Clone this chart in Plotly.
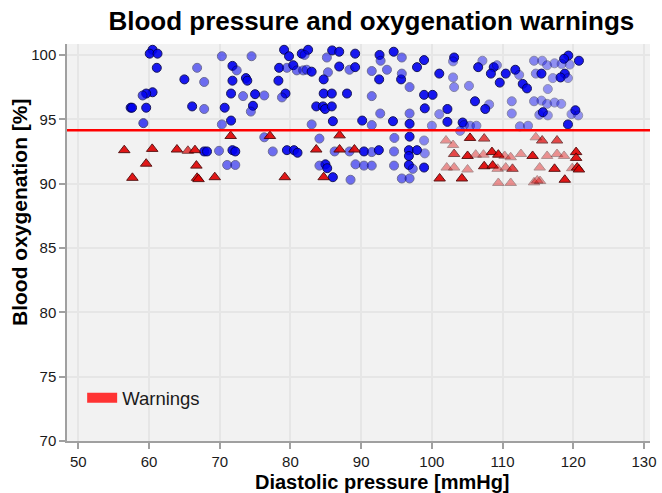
import plotly.graph_objects as go

# Normal readings (above the warning threshold): diastolic pressure, oxygenation, marker opacity
normal_pressure = [
    60.5, 60.1, 61.2, 61.1, 65.0, 60.5, 59.6, 59.1, 57.4, 57.6, 59.6, 59.2,
    79.1, 79.8, 81.6, 70.3, 74.5, 66.8, 71.8, 72.4, 73.7, 73.9, 71.8, 67.8,
    78.4, 79.5, 80.4, 80.9, 81.8, 78.3, 71.6, 73.3, 75.0, 76.3, 79.3, 78.8,
    66.1, 67.8, 70.7, 74.7, 74.4, 71.6, 70.3, 76.3, 67.8, 68.2, 69.9, 71.8,
    72.2, 77.5, 79.5, 80.5, 81.0, 71.05, 72.2,
    82.5, 82.0, 85.9, 86.9, 85.15, 89.15, 92.6, 92.75, 94.6, 95.75, 82.3, 83.0,
    86.9, 88.35, 89.15, 85.3, 84.7, 91.5, 93.65, 92.55, 95.65, 95.75, 97.9, 96.85,
    84.7, 85.85, 88.0, 91.5, 83.65, 84.6, 84.9, 85.85, 92.7, 96.85, 83.0, 86.0,
    90.15, 91.5, 94.5, 96.85, 84.1, 96.85, 94.7, 86.25, 88.35, 90.4, 91.5, 92.5,
    94.65, 96.75, 97.9, 96.75, 84.95, 84.1, 85.2, 89.2, 90.4, 91.5, 94.65, 96.75,
    97.3, 86.0, 88.5, 95.75, 96.85,
    98.9, 103.15, 103.0, 107.15, 106.55, 108.75, 109.2, 108.35, 110.45, 111.8, 112.35, 114.45,
    114.7, 101.05, 103.0, 103.15, 105.25, 109.6, 112.85, 113.45, 98.9, 100.1, 106.1, 108.1,
    107.55, 111.3, 114.45, 99.0, 102.2, 101.05, 111.3, 115.2, 102.2, 104.35, 104.55, 105.4,
    106.3, 100.0, 104.0, 112.45, 113.6, 98.9, 99.0, 98.9,
    119.3, 120.8, 118.7, 115.6, 116.3, 117.35, 118.35, 119.5, 115.5, 118.8, 118.2, 117.1,
    119.25, 116.4, 115.5, 116.3, 117.35, 118.3, 115.7, 116.4, 120.3, 119.75, 120.7, 119.25,
]
normal_oxygen = [
    100.4, 100.1, 100.1, 99.0, 98.1, 97.1, 97.0, 96.85, 95.9, 95.9, 95.9, 94.7,
    100.4, 99.9, 100.1, 99.9, 99.9, 99.0, 99.15, 98.8, 98.2, 98.0, 98.0, 97.9,
    99.0, 99.0, 99.2, 98.8, 98.8, 98.0, 97.0, 96.8, 96.95, 96.85, 97.0, 96.7,
    96.0, 95.8, 95.9, 96.05, 95.6, 94.9, 94.6, 93.6, 92.5, 92.5, 92.55, 92.6,
    92.5, 92.5, 92.6, 92.6, 92.4, 91.45, 91.45,
    100.4, 100.0, 100.35, 100.25, 99.8, 100.1, 100.0, 99.55, 100.25, 99.8, 98.85, 98.7,
    99.1, 98.85, 99.05, 98.65, 98.1, 98.75, 98.85, 98.1, 98.1, 98.55, 99.05, 97.5,
    97.0, 97.0, 97.0, 96.8, 96.0, 96.0, 95.8, 96.0, 95.45, 95.45, 94.6, 94.85,
    94.9, 94.55, 94.85, 94.65, 93.5, 93.65, 93.55, 92.5, 92.5, 92.5, 92.45, 92.6,
    92.5, 92.6, 92.6, 92.15, 91.5, 91.4, 91.2, 91.5, 91.4, 91.4, 91.4, 91.45,
    91.15, 90.5, 90.3, 90.4, 90.4,
    99.6, 99.8, 99.5, 99.55, 99.05, 99.05, 99.2, 98.55, 98.55, 98.85, 98.45, 99.55,
    98.55, 98.55, 98.25, 97.5, 97.6, 97.85, 97.75, 97.4, 96.9, 96.9, 96.4, 96.15,
    95.8, 96.4, 96.4, 95.85, 95.8, 95.4, 95.45, 95.35, 94.8, 94.75, 94.55, 94.5,
    94.5, 94.5, 94.1, 94.45, 94.5, 93.35, 92.35, 91.25,
    99.95, 99.55, 99.7, 99.55, 99.2, 99.35, 99.3, 99.25, 98.55, 98.55, 98.25, 98.2,
    98.2, 97.35, 96.45, 96.2, 96.3, 96.2, 95.55, 95.3, 95.7, 95.4, 95.3, 94.6,
]
normal_alpha = [
    0.9, 0.9, 0.9, 0.9, 0.9, 0.9, 0.9, 0.7, 0.9, 0.9, 0.9, 0.7,
    0.9, 0.9, 0.9, 0.55, 0.55, 0.55, 0.9, 0.55, 0.9, 0.9, 0.9, 0.55,
    0.9, 0.55, 0.9, 0.55, 0.55, 0.9, 0.9, 0.55, 0.9, 0.55, 0.9, 0.55,
    0.9, 0.55, 0.9, 0.9, 0.55, 0.9, 0.55, 0.55, 0.9, 0.9, 0.55, 0.9,
    0.9, 0.55, 0.9, 0.9, 0.9, 0.55, 0.55,
    0.9, 0.55, 0.9, 0.9, 0.55, 0.9, 0.9, 0.55, 0.9, 0.55, 0.55, 0.9,
    0.9, 0.55, 0.9, 0.55, 0.9, 0.55, 0.55, 0.9, 0.9, 0.55, 0.9, 0.55,
    0.9, 0.9, 0.9, 0.55, 0.9, 0.9, 0.9, 0.9, 0.55, 0.55, 0.55, 0.9,
    0.9, 0.55, 0.9, 0.9, 0.55, 0.9, 0.55, 0.55, 0.55, 0.9, 0.55, 0.9,
    0.55, 0.9, 0.9, 0.9, 0.9, 0.55, 0.9, 0.55, 0.55, 0.55, 0.55, 0.9,
    0.55, 0.9, 0.55, 0.55, 0.55,
    0.9, 0.9, 0.45, 0.45, 0.9, 0.9, 0.45, 0.9, 0.9, 0.9, 0.45, 0.45,
    0.45, 0.9, 0.45, 0.45, 0.45, 0.9, 0.9, 0.9, 0.9, 0.9, 0.9, 0.45,
    0.9, 0.45, 0.45, 0.9, 0.9, 0.45, 0.45, 0.45, 0.9, 0.9, 0.45, 0.45,
    0.45, 0.45, 0.45, 0.45, 0.45, 0.45, 0.45, 0.9,
    0.9, 0.9, 0.9, 0.4, 0.4, 0.4, 0.4, 0.4, 0.9, 0.9, 0.9, 0.4,
    0.4, 0.4, 0.4, 0.4, 0.4, 0.4, 0.9, 0.4, 0.9, 0.4, 0.4, 0.9,
]

# Warning readings (below the threshold)
warning_pressure = [
    56.5, 60.45, 63.95, 59.6, 57.65, 65.5, 66.5, 71.55, 77.1, 66.7, 66.8, 67.0,
    69.3, 79.2, 86.95, 83.65, 86.95, 89.05, 84.7,
    102.0, 103.0, 105.4, 107.4, 103.15, 105.05, 106.2, 107.3, 108.5, 109.4, 110.3, 111.15,
    112.6, 114.25, 102.1, 103.15, 105.05, 107.4, 108.6, 109.3, 110.45, 111.4, 101.1, 104.25,
    109.4, 111.15, 114.45, 115.6, 117.7, 114.7, 116.3, 117.7, 118.7, 120.4, 120.4, 117.35,
    119.85, 120.55, 120.8, 115.25, 118.8, 115.3, 114.9,
]
warning_oxygen = [
    92.6, 92.7, 92.65, 91.55, 90.45, 92.55, 92.6, 93.7, 93.7, 91.4, 90.45, 90.35,
    90.5, 90.5, 93.75, 92.65, 92.65, 92.65, 90.5,
    93.35, 93.0, 93.55, 93.5, 92.3, 92.15, 92.25, 92.25, 92.45, 92.25, 92.15, 92.05,
    92.3, 92.15, 91.25, 91.25, 91.1, 91.35, 91.4, 91.15, 91.25, 91.15, 90.4, 90.4,
    90.05, 90.05, 90.1, 93.35, 93.35, 93.6, 92.15, 92.3, 92.15, 92.45, 92.0, 91.15,
    91.2, 91.25, 91.1, 91.25, 90.3, 90.2, 90.25,
]
warning_alpha = [
    0.9, 0.9, 0.9, 0.9, 0.9, 0.7, 0.9, 0.9, 0.9, 0.9, 0.9, 0.9,
    0.9, 0.9, 0.9, 0.9, 0.9, 0.9, 0.9,
    0.4, 0.4, 0.9, 0.7, 0.7, 0.9, 0.4, 0.4, 0.9, 0.9, 0.4, 0.4,
    0.4, 0.9, 0.4, 0.4, 0.4, 0.9, 0.9, 0.4, 0.4, 0.7, 0.9, 0.9,
    0.4, 0.4, 0.4, 0.7, 0.7, 0.4, 0.4, 0.4, 0.4, 0.9, 0.9, 0.9,
    0.4, 0.9, 0.9, 0.4, 0.9, 0.4, 0.4,
]

warning_threshold = 94.15
x_ticks = [50, 60, 70, 80, 90, 100, 110, 120, 130]
y_ticks = [70, 75, 80, 85, 90, 95, 100]
x_range = [48.4, 130.85]
y_range = [70.0, 100.85]

FONT = "Liberation Sans, Arial"

fig = go.Figure()

fig.add_trace(go.Scatter(
    x=normal_pressure, y=normal_oxygen, mode="markers", showlegend=False,
    marker=dict(symbol="circle", size=9, color="#0000f0", opacity=normal_alpha,
                line=dict(color="#00004a", width=1)),
))
fig.add_trace(go.Scatter(
    x=warning_pressure, y=warning_oxygen, mode="markers", showlegend=False,
    marker=dict(symbol="triangle-up", size=10, color="#e00000", opacity=warning_alpha,
                line=dict(color="#4a0000", width=1)),
))
# Legend entry for the warning band
fig.add_trace(go.Scatter(
    x=[None], y=[None], mode="lines", name="Warnings",
    line=dict(color="#ff3333", width=12),
))

fig.add_hline(y=warning_threshold, line=dict(color="#ff0000", width=2.5))

axis_common = dict(
    showline=True, linecolor="#a0a0a0", linewidth=1.5,
    ticks="outside", ticklen=6, tickcolor="#a0a0a0", tickwidth=1.5,
    showgrid=True, gridcolor="#e6e6e6", gridwidth=1.5, zeroline=False,
    automargin=False,
    tickfont=dict(family=FONT, size=15, color="#1a1a1a"),
)
inner_ticks = dict(ticks="inside", ticklen=5, tickcolor="#a0a0a0", tickwidth=1.5,
                   showticklabels=False, showgrid=False, zeroline=False, automargin=False)

fig.update_layout(
    width=662, height=493,
    margin=dict(l=67, r=12, t=44, b=52),
    paper_bgcolor="white", plot_bgcolor="#f2f2f2",
    title=dict(text="<b>Blood pressure and oxygenation warnings</b>",
               font=dict(family=FONT, size=26, color="#000000"),
               x=0.522, xref="paper", xanchor="center",
               y=1 - 21 / 493, yref="container", yanchor="middle"),
    xaxis=dict(range=x_range, tickvals=x_ticks, **axis_common),
    yaxis=dict(range=y_range, tickvals=y_ticks, **axis_common),
    xaxis2=dict(overlaying="x", range=x_range, tickvals=x_ticks, side="bottom",
                anchor="y", **inner_ticks),
    yaxis2=dict(overlaying="y", range=y_range, tickvals=y_ticks, side="left",
                anchor="x", **inner_ticks),
    legend=dict(x=0.026, y=0.108, xanchor="left", yanchor="middle", bgcolor="rgba(0,0,0,0)",
                font=dict(family=FONT, size=18.5, color="#1a1a1a")),
    showlegend=True,
    annotations=[
        dict(text="<b>Diastolic pressure [mmHg]</b>", xref="paper", yref="paper",
             x=0.542, y=-(482 - 441) / 397, xanchor="center", yanchor="middle",
             showarrow=False, font=dict(family=FONT, size=20, color="#000000")),
        dict(text="<b>Blood oxygenation [%]</b>", xref="paper", yref="paper",
             x=-(67 - 19) / 583, y=(441 - 212) / 397, xanchor="center", yanchor="middle",
             textangle=-90, showarrow=False, font=dict(family=FONT, size=21, color="#000000")),
    ],
)

fig.write_html("out.html")
